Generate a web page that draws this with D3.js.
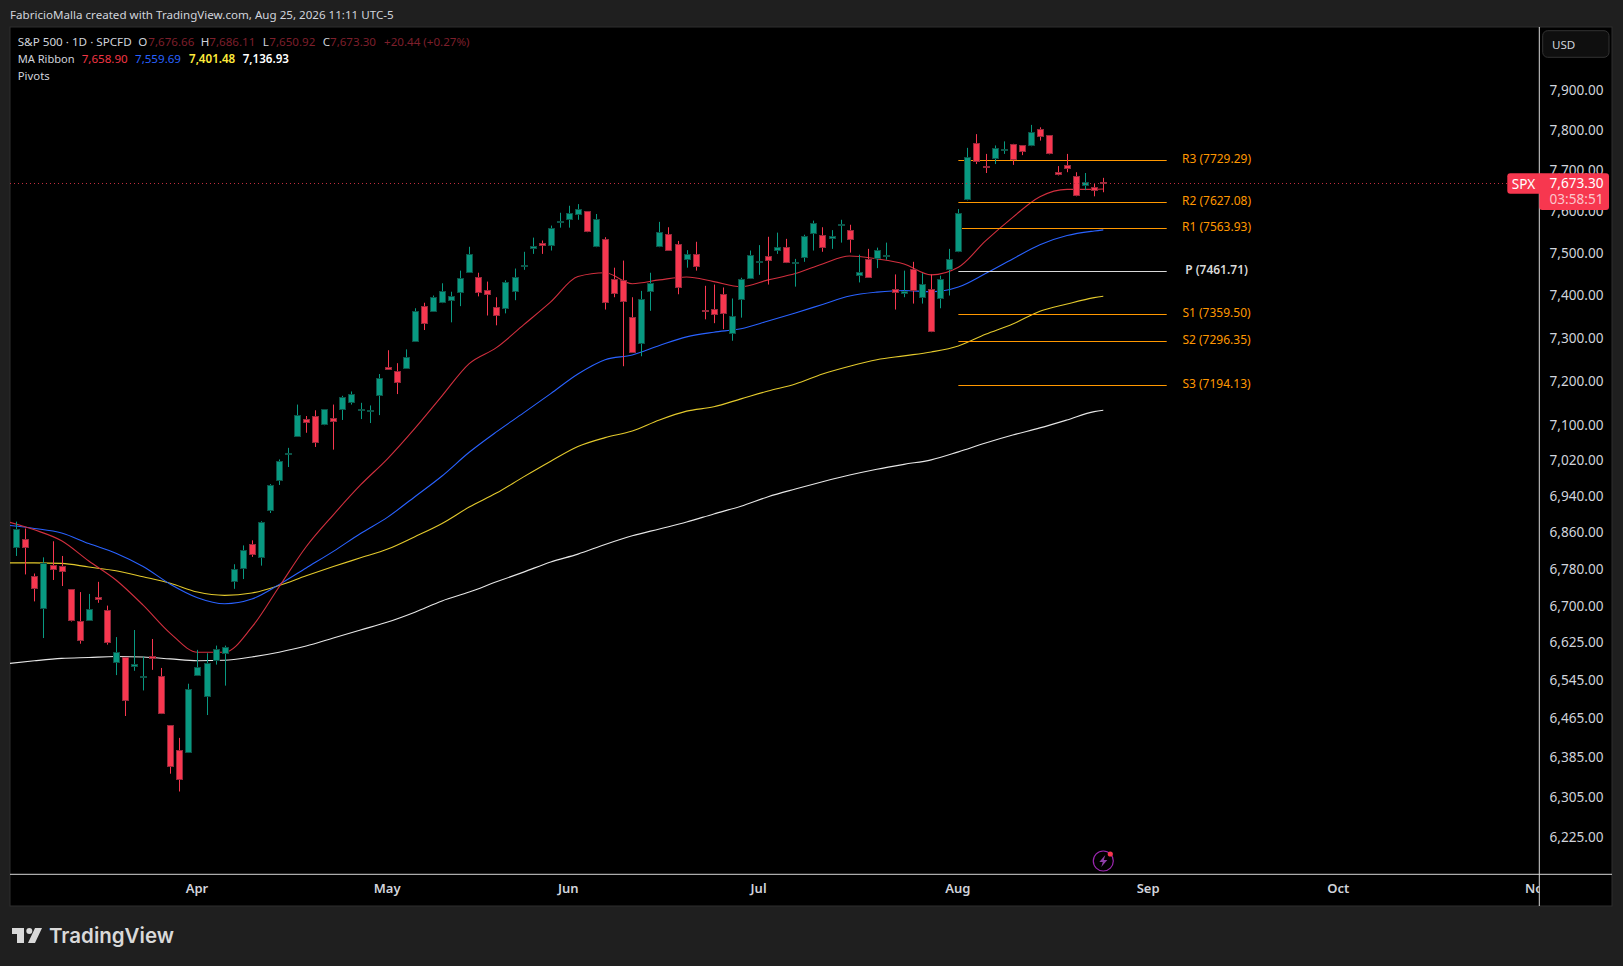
<!DOCTYPE html>
<html>
<head>
<meta charset="utf-8">
<title>S&amp;P 500 1D</title>
<script src="https://cdn.jsdelivr.net/npm/d3@7"></script>
<style>
  html, body { margin: 0; padding: 0; background: #1f1f1f; overflow: hidden; }
  text { font-family: "Noto Sans", sans-serif; }
</style>
</head>
<body>
<div id="chart"></div>
<script>
// candles, one entry per session (first one is index 0)
const opens = [6831,6850,6770,6699,6793,6791,6741,6674,6674,6724,6697,6584,6597,6576,6552,6599,6557,6455,6404,6398,6557,6512,6589,6604,6756,6784,6840,6808,6910,6979,7036,7077,7117,7125,7103,7119,7137,7152,7134,7132,7169,7236,7228,7233,7294,7379,7365,7385,7392,7410,7457,7447,7417,7377,7372,7412,7471,7514,7528,7521,7580,7583,7595,7605,7518,7538,7443,7440,7353,7289,7412,7518,7550,7526,7487,7502,7368,7372,7407,7312,7393,7442,7480,7497,7509,7518,7478,7492,7550,7547,7538,7573,7559,7450,7490,7490,7498,7419,7407,7466,7398,7419,7394,7464,7506,7631,7771,7714,7734,7754,7769,7767,7764,7806,7791,7700,7717,7690,7665,7663,7676.66];
const highs = [6888,6873,6775,6810,6845,6813,6741,6735,6731,6757,6706,6639,6597,6654,6598,6635,6574,6455,6429,6541,6612,6605,6621,6621,6795,6836,6847,6889,6971,7026,7052,7150,7124,7137,7139,7150,7170,7180,7154,7148,7220,7275,7245,7277,7373,7386,7403,7432,7412,7462,7519,7457,7436,7399,7439,7467,7507,7541,7534,7570,7601,7618,7622,7605,7598,7542,7469,7486,7399,7414,7457,7579,7566,7533,7511,7531,7426,7429,7422,7396,7445,7510,7523,7543,7553,7538,7490,7548,7582,7566,7559,7584,7572,7500,7514,7517,7529,7453,7462,7483,7456,7453,7450,7514,7610,7760,7794,7745,7766,7776,7770,7767,7817,7811,7791,7715,7745,7700,7698,7672,7686.11];
const lows = [6813,6773,6715,6637,6761,6748,6672,6625,6674,6712,6623,6559,6474,6568,6527,6570,6478,6356,6320,6398,6557,6476,6581,6537,6742,6763,6811,6792,6907,6969,7009,7077,7086,7054,7103,7048,7115,7150,7117,7108,7126,7230,7174,7233,7294,7322,7365,7385,7340,7378,7457,7401,7356,7333,7361,7392,7464,7502,7502,7510,7565,7565,7584,7554,7518,7370,7399,7238,7270,7261,7367,7518,7510,7406,7469,7462,7347,7338,7324,7297,7351,7442,7452,7429,7502,7480,7424,7483,7510,7507,7514,7529,7505,7434,7445,7468,7488,7370,7399,7384,7384,7317,7373,7403,7506,7631,7720,7698,7720,7745,7718,7742,7764,7778,7744,7692,7700,7641,7656,7641,7650.92];
const closes = [6872,6831,6743,6797,6782,6778,6672,6632,6699,6717,6626,6607,6506,6582,6557,6592,6478,6370,6344,6530,6576,6584,6614,6618,6784,6825,6816,6887,6968,7023,7041,7126,7109,7065,7139,7109,7167,7173,7139,7137,7210,7230,7200,7260,7367,7337,7400,7414,7403,7445,7502,7409,7405,7355,7436,7447,7475,7521,7520,7564,7582,7600,7610,7554,7586,7386,7407,7388,7270,7395,7433,7554,7510,7421,7502,7472,7366,7359,7359,7355,7442,7499,7485,7485,7518,7480,7482,7545,7576,7516,7545,7574,7535,7459,7445,7511,7500,7410,7414,7414,7431,7317,7441,7490,7600,7737,7724,7709,7760,7756,7729,7750,7799,7786,7744,7692,7707,7641,7675,7654,7673.30];

// MA ribbon, read at every third session
const maIndex = [-1,2,5,8,11,14,17,20,23,26,29,32,35,38,41,44,47,50,53,56,59,62,65,68,71,74,77,80,83,86,89,92,95,98,101,104,107,110,113,116,119,120];
const maRed = [6888,6870,6846,6802,6761,6707,6647,6607,6607,6660,6746,6833,6903,6969,7028,7096,7170,7244,7281,7334,7388,7448,7457,7431,7440,7447,7436,7424,7440,7455,7478,7497,7490,7478,7452,7470,7533,7590,7640,7658,7658,7658.90];
const maBlue = [6880,6873,6863,6840,6819,6790,6752,6723,6710,6720,6751,6787,6823,6862,6898,6943,6989,7042,7088,7131,7175,7220,7253,7264,7286,7306,7317,7325,7343,7362,7382,7402,7411,7415,7412,7423,7455,7490,7524,7546,7557,7559.69];
const maYellow = [6798,6798,6797,6789,6781,6768,6754,6735,6728,6733,6749,6770,6790,6809,6828,6855,6884,6920,6951,6987,7022,7055,7075,7090,7115,7135,7145,7163,7181,7197,7220,7238,7253,7262,7271,7285,7312,7336,7366,7383,7398,7401.48];
const maWhite = [6583,6589,6594,6596,6598,6597,6593,6589,6590,6597,6607,6620,6637,6654,6671,6692,6716,6735,6757,6778,6800,6817,6838,6857,6872,6887,6905,6922,6943,6960,6976,6991,7004,7015,7025,7043,7063,7081,7097,7115,7134,7136.93];

// pivots
const pivotNames = ["R3","R2","R1","P","S1","S2","S3"];
const pivotValues = [7729.29,7627.08,7563.93,7461.71,7359.50,7296.35,7194.13];

// axes
const priceTicks = [7900,7800,7700,7600,7500,7400,7300,7200,7100,7020,6940,6860,6780,6700,6625,6545,6465,6385,6305,6225];
const monthLabels = ["Apr","May","Jun","Jul","Aug","Sep","Oct","Nov"];
const monthIndex = [20,41,61,82,104,125,146,168];

const lastPrice = 7673.30;

const chartWidth = 1623, chartHeight = 966;
const plot = { left: 10, right: 1612, top: 27, bottom: 906, axisX: 1539.3, axisY: 874.3 };

const upColor = "#089981", upBorder = "#0c5347";
const downColor = "#f7374f", downBorder = "#94283a";
const orange = "#ff9800";
const axisText = "#d1d4dc";

const svg = d3.select("#chart")
  .append("svg")
    .attr("width", chartWidth)
    .attr("height", chartHeight)
    .style("display", "block");

// page and panel background
svg.append("rect").attr("width", chartWidth).attr("height", chartHeight).attr("fill", "#1f1f1f");
svg.append("rect")
    .attr("x", plot.left).attr("y", plot.top)
    .attr("width", plot.right - plot.left).attr("height", plot.bottom - plot.top)
    .attr("fill", "#000")
    .attr("stroke", "#2e2e2e");

svg.append("text")
    .attr("x", 10).attr("y", 19)
    .attr("fill", "#d1d4dc")
    .style("font-size", "11.6px")
    .text("FabricioMalla created with TradingView.com, Aug 25, 2026 11:11 UTC-5");

svg.append("clipPath").attr("id", "paneClip")
  .append("rect")
    .attr("x", plot.left).attr("y", plot.top)
    .attr("width", plot.axisX - plot.left).attr("height", plot.bottom - plot.top);

// scales
const x = d3.scaleLinear().domain([0, 120]).range([16.3, 1103.3]);
const y = d3.scaleLog().domain([6155.3, 8064.9]).range([plot.axisY, plot.top]);

const pane = svg.append("g").attr("clip-path", "url(#paneClip)");

// MA ribbon
const maLine = d3.line()
    .x((d, i) => x(maIndex[i]))
    .y(d => y(d))
    .curve(d3.curveMonotoneX);

[[maWhite, "#e6e6e6"], [maYellow, "#e3c92c"], [maBlue, "#2962ff"], [maRed, "#d12f3e"]].forEach(([series, color]) => {
  pane.append("path")
      .datum(series)
      .attr("fill", "none")
      .attr("stroke", color)
      .attr("stroke-width", 1.1)
      .attr("d", maLine);
});

// pivot lines
pane.selectAll(".pivot")
  .data(pivotValues)
  .enter().append("line")
    .attr("x1", x(104))
    .attr("x2", x(127))
    .attr("y1", d => Math.round(y(d)) + 0.5)
    .attr("y2", d => Math.round(y(d)) + 0.5)
    .attr("stroke", (d, i) => pivotNames[i] === "P" ? "#d9d9d9" : orange);

pane.selectAll(".pivotLabel")
  .data(pivotValues)
  .enter().append("text")
    .attr("x", x(132.5))
    .attr("y", d => y(d) - 1)
    .attr("dy", "0.35em")
    .attr("text-anchor", "middle")
    .attr("fill", (d, i) => pivotNames[i] === "P" ? "#d9d9d9" : orange)
    .style("font-size", "12px")
    .style("font-weight", (d, i) => pivotNames[i] === "P" ? 600 : 400)
    .text((d, i) => `${pivotNames[i]} (${d.toFixed(2)})`);

// candles
const candles = pane.selectAll(".candle")
  .data(d3.range(opens.length))
  .enter().append("g")
    .attr("class", "candle");

candles.append("line")
    .attr("x1", i => Math.round(x(i)) + 0.5)
    .attr("x2", i => Math.round(x(i)) + 0.5)
    .attr("y1", i => y(highs[i]))
    .attr("y2", i => y(lows[i]))
    .attr("stroke", i => closes[i] >= opens[i] ? upColor : downColor);

candles.append("rect")
    .attr("x", i => Math.round(x(i)) - 2.5)
    .attr("width", 6)
    .attr("y", i => Math.round(y(Math.max(opens[i], closes[i]))) + 0.5)
    .attr("height", i => Math.max(1, Math.round(y(Math.min(opens[i], closes[i])) - y(Math.max(opens[i], closes[i]))) - 1))
    .attr("fill", i => closes[i] >= opens[i] ? upColor : downColor)
    .attr("stroke", i => closes[i] >= opens[i] ? upBorder : downBorder);

// last price dotted line
svg.append("line")
    .attr("x1", plot.left).attr("x2", 1507)
    .attr("y1", Math.round(y(lastPrice)) + 0.5).attr("y2", Math.round(y(lastPrice)) + 0.5)
    .attr("stroke", "#c22f40")
    .attr("stroke-dasharray", "1,3");

// storm icon
const storm = svg.append("g").attr("transform", `translate(${x(120)},861)`);
storm.append("circle").attr("r", 10).attr("fill", "none").attr("stroke", "#9c27b0").attr("stroke-width", 1.2);
storm.append("path").attr("d", "M2,-6 L-4,1 L-0.5,1 L-2,6 L4,-1 L0.5,-1 Z").attr("fill", "#8e3fa8");
storm.append("circle").attr("cx", 7).attr("cy", -7).attr("r", 2.6).attr("fill", downColor);

// price axis
const priceAxis = svg.append("g")
    .attr("transform", `translate(1603.5,-1.8)`)
    .call(d3.axisRight(y).tickValues(priceTicks).tickFormat(d3.format(",.2f")).tickSize(0).tickPadding(0));
priceAxis.select(".domain").remove();
priceAxis.selectAll("text")
    .attr("text-anchor", "end")
    .attr("fill", axisText)
    .style("font-size", "13.6px");

// time axis
const timeAxis = svg.append("g")
    .attr("clip-path", "url(#paneClip)")
  .append("g")
    .attr("transform", `translate(-1,${plot.axisY + 9.5})`)
    .call(d3.axisBottom(x).tickValues(monthIndex).tickFormat((d, i) => monthLabels[i]).tickSize(0).tickPadding(0));
timeAxis.select(".domain").remove();
timeAxis.selectAll("text")
    .attr("fill", axisText)
    .style("font-size", "13px")
    .style("font-weight", 600);

// axis borders
svg.append("line").attr("x1", plot.left).attr("x2", plot.right).attr("y1", plot.axisY).attr("y2", plot.axisY).attr("stroke", "#d8d8d8");
svg.append("line").attr("x1", plot.axisX).attr("x2", plot.axisX).attr("y1", plot.top).attr("y2", plot.bottom).attr("stroke", "#d8d8d8");

// currency button
svg.append("rect")
    .attr("x", 1542.7).attr("y", 30.7).attr("width", 66.3).attr("height", 26.6).attr("rx", 5)
    .attr("fill", "#0f0f0f").attr("stroke", "#333");
svg.append("text").attr("x", 1552).attr("y", 49).attr("fill", axisText).style("font-size", "11.6px").text("USD");

// last price tag
svg.append("rect").attr("x", 1507.3).attr("y", 173.3).attr("width", 36).attr("height", 20.4).attr("rx", 3).attr("fill", downColor);
svg.append("rect").attr("x", 1539.3).attr("y", 173.3).attr("width", 69.7).attr("height", 36.7).attr("rx", 3).attr("fill", downColor);
svg.append("text").attr("x", 1523.5).attr("y", 188.5).attr("text-anchor", "middle").attr("fill", "#fff").style("font-size", "13.6px").text("SPX");
svg.append("text").attr("x", 1603.5).attr("y", 188).attr("text-anchor", "end").attr("fill", "#fff").style("font-size", "13.6px").text(d3.format(",.2f")(lastPrice));
svg.append("text").attr("x", 1603.5).attr("y", 204).attr("text-anchor", "end").attr("fill", "#fbc6cc").style("font-size", "13.6px").text("03:58:51");

// legend
const legend = svg.append("g").style("font-size", "11.6px");
function legendText(px, py, str, color, weight, width) {
  const t = legend.append("text").attr("x", px).attr("y", py).attr("fill", color).style("font-weight", weight || 400).text(str);
  if (width) t.attr("textLength", width).attr("lengthAdjust", "spacingAndGlyphs");
}
const dimRed = "#7d1f2b";
legendText(17.7, 46, "S&P 500 · 1D · SPCFD", axisText, 400, 114);
legendText(138.3, 46, "O", axisText);
legendText(148.3, 46, d3.format(",.2f")(opens[120]), dimRed);
legendText(200.7, 46, "H", axisText);
legendText(209.3, 46, d3.format(",.2f")(highs[120]), dimRed);
legendText(262.7, 46, "L", axisText);
legendText(269.3, 46, d3.format(",.2f")(lows[120]), dimRed);
legendText(322.7, 46, "C", axisText);
legendText(330, 46, d3.format(",.2f")(closes[120]), dimRed);
legendText(384, 46, "+20.44", dimRed);
legendText(423.3, 46, "(+0.27%)", dimRed);
legendText(17.7, 63, "MA Ribbon", axisText, 400, 57);
legendText(81.7, 63, d3.format(",.2f")(maRed[41]), "#f23645");
legendText(135, 63, d3.format(",.2f")(maBlue[41]), "#2962ff");
legendText(189, 63, d3.format(",.2f")(maYellow[41]), "#ffeb3b", 600);
legendText(242.7, 63, d3.format(",.2f")(maWhite[41]), "#ffffff", 600);
legendText(17.7, 80, "Pivots", axisText, 400, 32);

// TradingView logo
const logo = svg.append("g").attr("fill", "#d9d9d9");
logo.append("path").attr("d", "M12,928 H24 V943 H17 V934 H12 Z");
logo.append("circle").attr("cx", 29.3).attr("cy", 931).attr("r", 3);
logo.append("path").attr("d", "M35,928 H42 L35,943 H28 Z");
logo.append("text").attr("x", 49).attr("y", 943).style("font-family", "Inter, sans-serif").style("font-size", "20.5px").style("font-weight", 600).text("TradingView");
</script>
</body>
</html>
